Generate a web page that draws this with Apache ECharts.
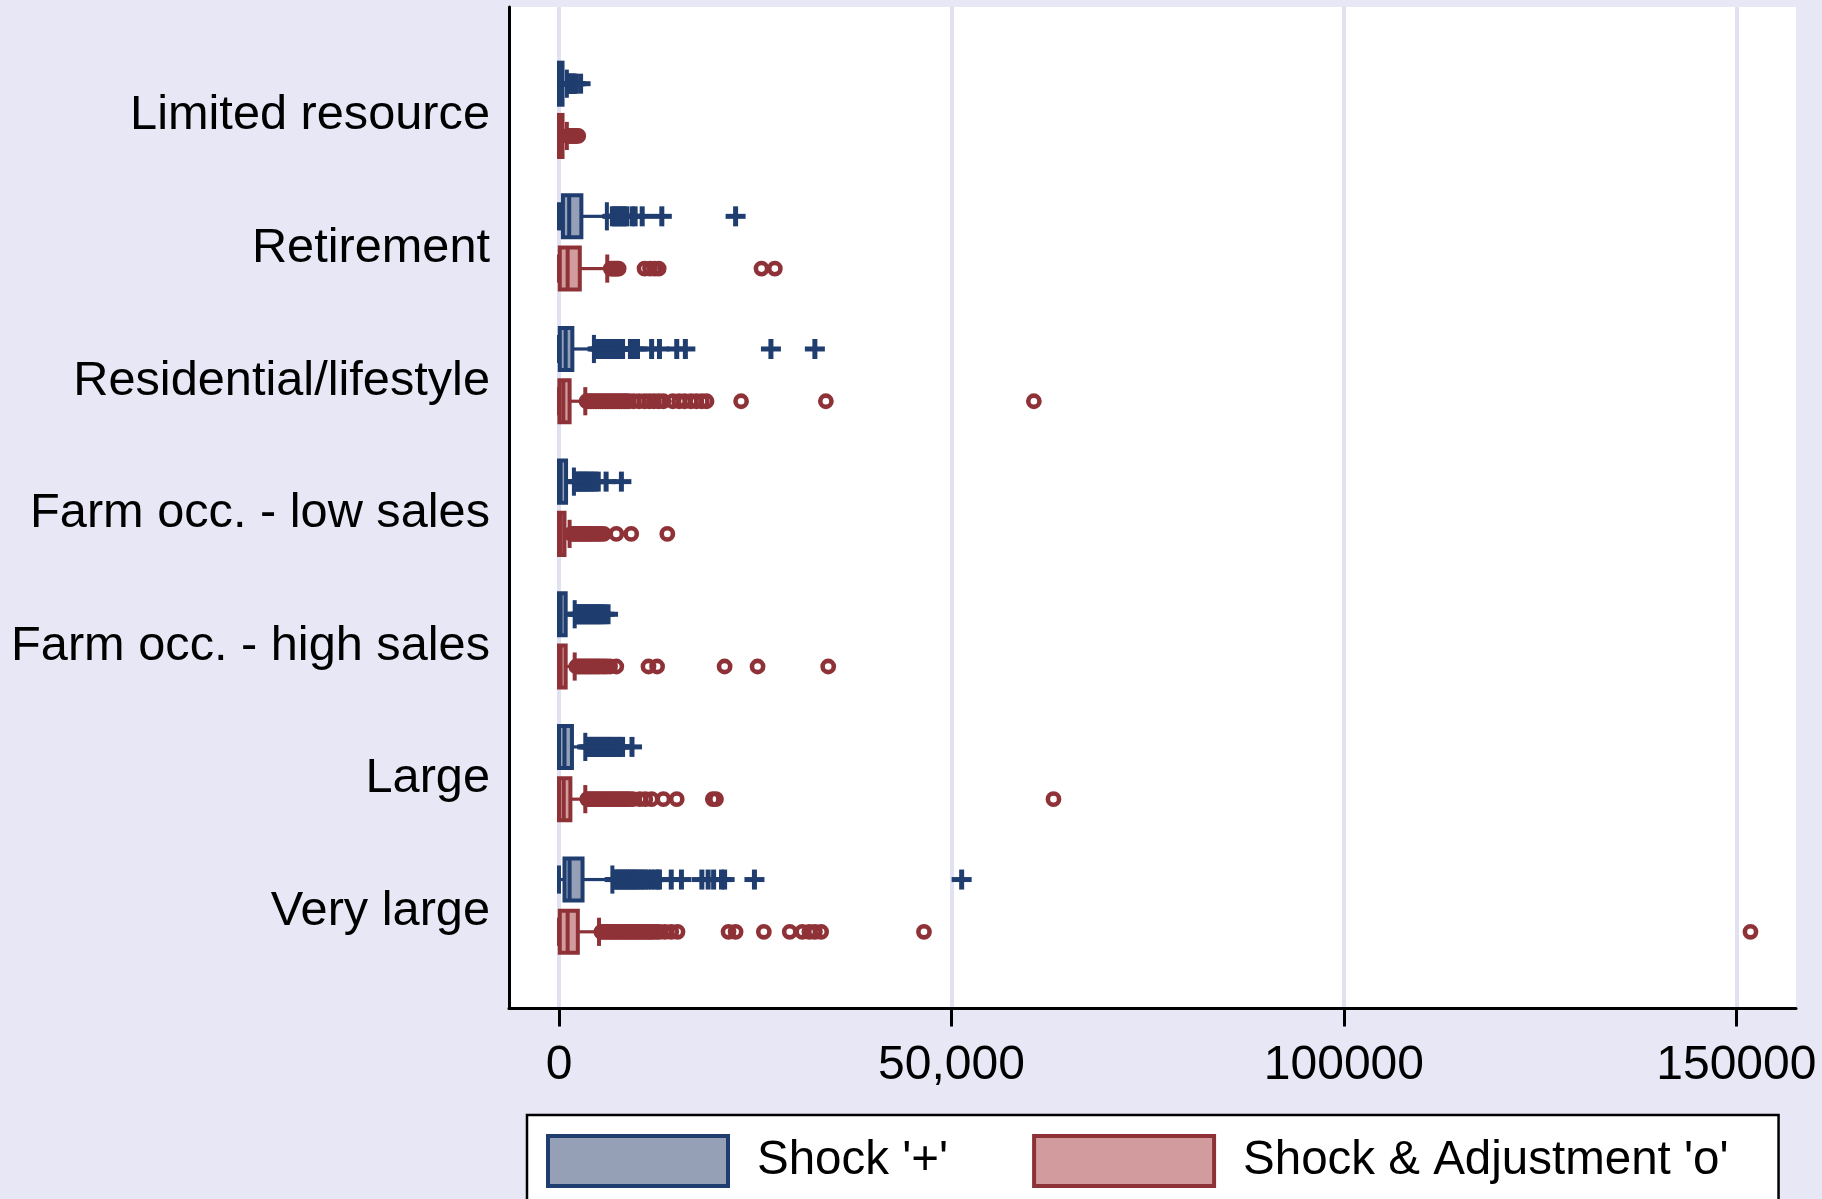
<!DOCTYPE html>
<html>
<head>
<meta charset="utf-8">
<script src="https://cdn.jsdelivr.net/npm/echarts@6/dist/echarts.min.js"></script>
<style>
html,body{margin:0;padding:0;background:#E7E7F5;}
#chart{width:1822px;height:1199px;}
</style>
</head>
<body>
<div id="chart"></div>
<script>
// ---------------- data ----------------
const categories = ['Limited resource', 'Retirement', 'Residential/lifestyle',
  'Farm occ. - low sales', 'Farm occ. - high sales', 'Large', 'Very large'];

const seriesNames = ["Shock '+'", "Shock & Adjustment 'o'"];

// [lower adjacent, Q1, median, Q3, upper adjacent]
const shockStats = [
  [0, 0, 100, 450, 1000],
  [0, 500, 1300, 2850, 6100],
  [0, 100, 850, 1700, 4450],
  [0, 0, 200, 900, 1900],
  [0, 0, 200, 850, 2000],
  [0, 0, 700, 1650, 3350],
  [0, 700, 1350, 3000, 6800]
];
const adjStats = [
  [0, 0, 100, 450, 1000],
  [0, 100, 1100, 2650, 6150],
  [0, 50, 550, 1350, 3350],
  [0, 0, 200, 700, 1350],
  [0, 0, 200, 850, 2000],
  [0, 0, 600, 1450, 3350],
  [0, 100, 1100, 2400, 5100]
];

const shockOutliers = [
  [1100, 1250, 1400, 1550, 1700, 1850, 2000, 2150, 2750],
  [6800, 7100, 7400, 7700, 8000, 8300, 8600, 9300, 9700, 10600, 13100, 22500],
  [4900, 5150, 5350, 5600, 5850, 6100, 6300, 6550, 6800, 7050, 7300, 7550, 7800, 8100,
   9100, 9500, 10000, 11800, 12800, 15000, 16100, 27000, 32600],
  [2200, 2450, 2700, 2950, 3200, 3450, 3700, 4000, 4300, 4600, 5000, 6000, 7950],
  [2200, 2450, 2700, 2950, 3200, 3450, 3700, 3950, 4200, 4450, 4700, 4950, 5200, 5500, 5800, 6250],
  [3600, 3850, 4100, 4350, 4600, 4850, 5100, 5350, 5600, 5850, 6100, 6350, 6600, 6900, 7200,
   7500, 7800, 8100, 9300],
  [7100, 7350, 7600, 7850, 8100, 8350, 8600, 8850, 9100, 9350, 9600, 9850, 10100, 10400, 10700,
   11000, 11400, 11800, 12200, 12600, 12800, 14300, 15600, 18200, 19000, 19700, 20700, 21100,
   24900, 51300]
];
const adjOutliers = [
  [1150, 1300, 1450, 1600, 1750, 1900, 2050, 2200, 2450],
  [6600, 6800, 7000, 7200, 7400, 7600, 10900, 11600, 12200, 12700, 25800, 27500],
  [3500, 3800, 4100, 4400, 4700, 5000, 5300, 5600, 5900, 6200, 6500, 6800, 7100, 7400, 7700,
   8000, 8300, 8600, 8900, 9500, 10200, 10900, 11500, 12100, 12700, 13300,
   14500, 15300, 16000, 16800, 17500, 18200, 18800, 23200, 34000, 60500],
  [1600, 1850, 2100, 2350, 2600, 2850, 3100, 3350, 3600, 3850, 4100, 4400, 4700, 5000, 5300,
   5700, 7300, 9200, 13800],
  [2200, 2450, 2700, 2950, 3200, 3450, 3700, 3950, 4200, 4450, 4700, 4950, 5200, 5500, 5800,
   6100, 6500, 7300, 11400, 12500, 21100, 25300, 34300],
  [3600, 3900, 4200, 4500, 4800, 5100, 5400, 5700, 6000, 6300, 6600, 6900, 7200, 7500, 7800,
   8100, 8400, 8700, 9000, 9400, 10300, 11000, 11800, 13300, 15000, 19600, 20000, 63000],
  [5400, 5700, 6000, 6300, 6600, 6900, 7200, 7500, 7800, 8100, 8400, 8700, 9000, 9300, 9600,
   9900, 10200, 10500, 10800, 11100, 11400, 11700, 12000, 12400, 12800, 13500, 14300, 15100,
   21600, 22500, 26100, 29400, 31000, 31900, 32600, 33400, 46500, 151800]
];

const tickValues = [0, 50000, 100000, 150000];
const tickLabels = ['0', '50,000', '100000', '150000'];
const xMin = -6370;
const xMax = 157600;

// ---------------- styles ----------------
const FONT = '"Liberation Sans", Arial, Helvetica, sans-serif';
const BLUE = '#1F3D6E', BLUE_FILL = '#95A0B7';
const RED = '#8F3237', RED_FILL = '#D29C9E';
const BG = '#E7E7F5';
const GRIDLINE = '#E1E1F2';
const BOX_FRAC = 0.317;     // box height as a share of the category band
const OFFSET_FRAC = 0.197;  // distance of each box from the band centre

function boxRenderer(offsetFrac, stroke, fill) {
  return function (params, api) {
    const cat = api.value(0);
    const band = api.size([0, 1])[1];
    const yc = api.coord([0, cat])[1] + offsetFrac * band;
    const h = band * BOX_FRAC;
    const cap = h * 0.67;
    const x = [1, 2, 3, 4, 5].map(i => api.coord([api.value(i), cat])[0]);
    const ls = { stroke: stroke, lineWidth: 3.2, fill: null };
    return {
      type: 'group',
      children: [
        { type: 'line', shape: { x1: x[0], y1: yc, x2: x[1], y2: yc }, style: ls },
        { type: 'line', shape: { x1: x[3], y1: yc, x2: x[4], y2: yc }, style: ls },
        { type: 'line', shape: { x1: x[0], y1: yc - cap / 2, x2: x[0], y2: yc + cap / 2 }, style: { stroke: stroke, lineWidth: 4 } },
        { type: 'line', shape: { x1: x[4], y1: yc - cap / 2, x2: x[4], y2: yc + cap / 2 }, style: { stroke: stroke, lineWidth: 4 } },
        { type: 'rect', shape: { x: x[1], y: yc - h / 2, width: Math.max(x[3] - x[1], 0), height: h },
          style: { fill: fill, stroke: stroke, lineWidth: 4 } },
        { type: 'line', shape: { x1: x[2], y1: yc - h / 2, x2: x[2], y2: yc + h / 2 }, style: { stroke: stroke, lineWidth: 4 } }
      ]
    };
  };
}

function plusRenderer(offsetFrac, color) {
  return function (params, api) {
    const cat = api.value(1);
    const band = api.size([0, 1])[1];
    const p = api.coord([api.value(0), cat]);
    const cx = p[0], cy = p[1] + offsetFrac * band;
    const s = 20, t = 5;
    return {
      type: 'group',
      children: [
        { type: 'rect', shape: { x: cx - s / 2, y: cy - t / 2, width: s, height: t }, style: { fill: color } },
        { type: 'rect', shape: { x: cx - t / 2, y: cy - s / 2, width: t, height: s }, style: { fill: color } }
      ]
    };
  };
}

function circleRenderer(offsetFrac, color) {
  return function (params, api) {
    const cat = api.value(1);
    const band = api.size([0, 1])[1];
    const p = api.coord([api.value(0), cat]);
    return {
      type: 'circle',
      shape: { cx: p[0], cy: p[1] + offsetFrac * band, r: 5.6 },
      style: { fill: null, stroke: color, lineWidth: 4.6 }
    };
  };
}

function statsRows(stats) {
  return stats.map((s, i) => [i].concat(s));
}
function outlierRows(lists) {
  const rows = [];
  lists.forEach((list, i) => list.forEach(v => rows.push([v, i])));
  return rows;
}

const chart = echarts.init(document.getElementById('chart'), null, { renderer: 'canvas' });

const option = {
  backgroundColor: BG,
  animation: false,
  textStyle: { fontFamily: FONT },
  grid: [
    // plot region (white) with the axes
    { left: 509, right: 26, top: 7, bottom: 190.5, show: true, backgroundColor: '#FFFFFF', borderWidth: 0, containLabel: false },
    // data region for the boxes and markers
    { left: 509, right: 26, top: 43.5, bottom: 227, containLabel: false },
    // category labels (set slightly lower, as in the original)
    { left: 509, right: 26, top: 49.5, bottom: 221, containLabel: false }
  ],
  xAxis: [
    {
      gridIndex: 0, type: 'value', min: xMin, max: xMax,
      axisLine: { show: true, onZero: false, lineStyle: { color: '#000', width: 3 } },
      axisTick: { show: true, customValues: tickValues, length: 18, lineStyle: { color: '#000', width: 3 } },
      axisLabel: {
        show: true, customValues: tickValues, margin: 33, color: '#000', fontSize: 48, fontFamily: FONT,
        formatter: v => tickLabels[tickValues.indexOf(v)]
      },
      splitLine: { show: true, lineStyle: { color: GRIDLINE, width: 4 } }
    },
    { gridIndex: 1, type: 'value', min: xMin, max: xMax, show: false },
    { gridIndex: 2, type: 'value', min: xMin, max: xMax, show: false }
  ],
  yAxis: [
    {
      gridIndex: 0, type: 'value', min: 0, max: 1,
      axisLine: { show: true, onZero: false, lineStyle: { color: '#000', width: 3 } },
      axisTick: { show: false }, axisLabel: { show: false }, splitLine: { show: false }
    },
    {
      gridIndex: 1, type: 'category', data: categories, inverse: true,
      axisLine: { show: false }, axisTick: { show: false }, splitLine: { show: false },
      axisLabel: { show: false }
    },
    {
      gridIndex: 2, type: 'category', data: categories, inverse: true,
      axisLine: { show: false }, axisTick: { show: false }, splitLine: { show: false },
      axisLabel: { show: true, margin: 19, color: '#000', fontSize: 48.7, fontFamily: FONT }
    }
  ],
  legend: {
    left: 527, top: 1115,
    orient: 'horizontal',
    backgroundColor: '#FFFFFF',
    borderColor: '#000', borderWidth: 2.5, borderRadius: 0,
    padding: [19, 50, 19, 19],
    itemWidth: 180, itemHeight: 50, itemGap: 84,
    textStyle: { color: '#000', fontSize: 47.5, fontFamily: FONT, padding: [0, 0, 0, 24] },
    data: [
      { name: seriesNames[0], icon: 'rect', itemStyle: { color: BLUE_FILL, borderColor: BLUE, borderWidth: 4 } },
      { name: seriesNames[1], icon: 'rect', itemStyle: { color: RED_FILL, borderColor: RED, borderWidth: 4 } }
    ]
  },
  series: [
    {
      name: seriesNames[0], type: 'custom', xAxisIndex: 1, yAxisIndex: 1,
      itemStyle: { color: BLUE_FILL, borderColor: BLUE },
      encode: { x: [1, 2, 3, 4, 5], y: 0 },
      renderItem: boxRenderer(-OFFSET_FRAC, BLUE, BLUE_FILL),
      data: statsRows(shockStats), z: 3
    },
    {
      name: seriesNames[1], type: 'custom', xAxisIndex: 1, yAxisIndex: 1,
      itemStyle: { color: RED_FILL, borderColor: RED },
      encode: { x: [1, 2, 3, 4, 5], y: 0 },
      renderItem: boxRenderer(OFFSET_FRAC, RED, RED_FILL),
      data: statsRows(adjStats), z: 3
    },
    {
      name: seriesNames[0], type: 'custom', xAxisIndex: 1, yAxisIndex: 1,
      itemStyle: { color: BLUE_FILL, borderColor: BLUE },
      encode: { x: 0, y: 1 },
      renderItem: plusRenderer(-OFFSET_FRAC, BLUE),
      data: outlierRows(shockOutliers), z: 4
    },
    {
      name: seriesNames[1], type: 'custom', xAxisIndex: 1, yAxisIndex: 1,
      itemStyle: { color: RED_FILL, borderColor: RED },
      encode: { x: 0, y: 1 },
      renderItem: circleRenderer(OFFSET_FRAC, RED),
      data: outlierRows(adjOutliers), z: 4
    }
  ]
};
chart.setOption(option);
</script>
</body>
</html>
